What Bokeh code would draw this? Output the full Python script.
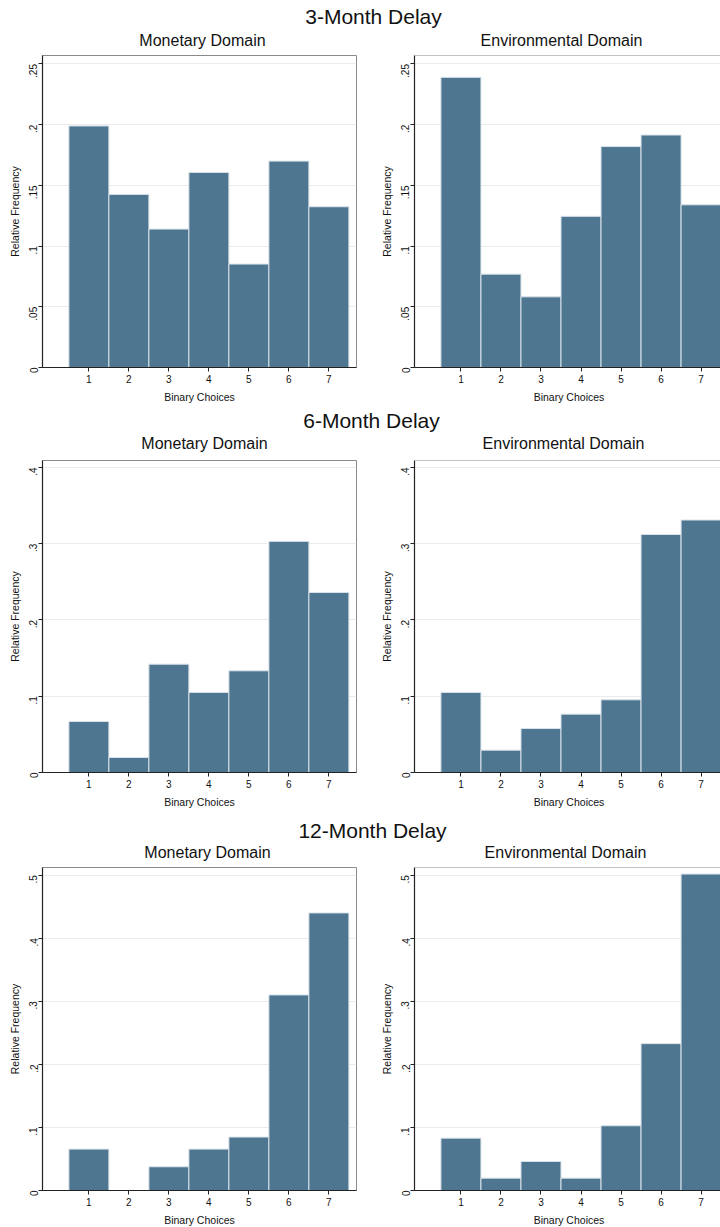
from math import pi
from bokeh.plotting import figure
from bokeh.layouts import column, row
from bokeh.models import FixedTicker, Span, Range1d, Label
from bokeh.embed import file_html
from bokeh.resources import INLINE

# ---------------- data ----------------
choices = [1, 2, 3, 4, 5, 6, 7]

month3_monetary = [0.199, 0.1426, 0.114, 0.1607, 0.0852, 0.170, 0.1324]
month3_environmental = [0.239, 0.0769, 0.0582, 0.1245, 0.182, 0.1915, 0.134]

month6_monetary = [0.0669, 0.0197, 0.142, 0.105, 0.1333, 0.303, 0.236]
month6_environmental = [0.105, 0.0293, 0.0577, 0.0765, 0.0953, 0.312, 0.331]

month12_monetary = [0.0656, 0.0, 0.0376, 0.0656, 0.0847, 0.310, 0.440]
month12_environmental = [0.083, 0.0196, 0.046, 0.0196, 0.1026, 0.2328, 0.5016]

row_titles = ["3-Month Delay", "6-Month Delay", "12-Month Delay"]
panel_titles = ["Monetary Domain", "Environmental Domain"]
x_label = "Binary Choices"
y_label = "Relative Frequency"

y_ticks_3 = [0, 0.05, 0.1, 0.15, 0.2, 0.25]
y_labels_3 = ["0", ".05", ".1", ".15", ".2", ".25"]
y_ticks_6 = [0, 0.1, 0.2, 0.3, 0.4]
y_labels_6 = ["0", ".1", ".2", ".3", ".4"]
y_ticks_12 = [0, 0.1, 0.2, 0.3, 0.4, 0.5]
y_labels_12 = ["0", ".1", ".2", ".3", ".4", ".5"]

# ---------------- style ----------------
FONT = "Liberation Sans"
BAR = "#4f7690"
BAR_EDGE = "#d9e3ea"
GRID = "#ebebeb"
AXIS = "#222222"
FRAME = "#8a8a8a"
TEXT = "#111111"
TOTAL_W = 720


def panel(values, ticks, labels, ymax, left, frame_h, bottom_b):
    if left:
        xr = Range1d(-0.16, 7.69)
        fw, bl, br = 314, 42, 21
    else:
        xr = Range1d(-0.16, 7.56)
        fw, bl, br = 309, 34, 0
    p = figure(frame_width=fw, frame_height=frame_h,
               min_border_left=bl, min_border_right=br,
               min_border_top=3, min_border_bottom=bottom_b,
               x_range=xr, y_range=Range1d(0, ymax),
               output_backend="svg", toolbar_location=None)
    p.margin = (0, 0, 0, 0)
    p.vbar(x=choices, top=values, width=1.0, bottom=0,
           fill_color=BAR, line_color=BAR_EDGE, line_width=1)

    p.xgrid.grid_line_color = None
    p.ygrid.grid_line_color = GRID
    p.ygrid.grid_line_width = 1
    p.ygrid.ticker = FixedTicker(ticks=ticks[1:])

    p.xaxis.ticker = FixedTicker(ticks=choices)
    p.yaxis.ticker = FixedTicker(ticks=ticks)
    p.yaxis.major_label_overrides = {t: l for t, l in zip(ticks, labels)}
    p.yaxis.major_label_orientation = pi / 2
    p.xaxis.axis_label = x_label
    p.yaxis.axis_label = y_label
    for ax in (p.xaxis, p.yaxis):
        ax.axis_line_color = AXIS
        ax.axis_line_width = 1.2
        ax.major_tick_line_color = AXIS
        ax.major_tick_in = 0
        ax.major_tick_out = 4
        ax.minor_tick_line_color = None
        ax.major_label_text_font = FONT
        ax.major_label_text_font_size = "10px"
        ax.major_label_text_color = TEXT
        ax.axis_label_text_font = FONT
        ax.axis_label_text_font_size = "10.5px"
        ax.axis_label_text_font_style = "normal"
        ax.axis_label_text_color = TEXT
    p.xaxis.major_label_standoff = 3
    p.xaxis.axis_label_standoff = 5
    p.yaxis.major_label_standoff = 5
    p.yaxis.axis_label_standoff = 2

    if left:
        p.outline_line_color = FRAME
        p.outline_line_width = 1
    else:
        p.outline_line_color = None
        p.add_layout(Span(location=ymax, dimension="width",
                          line_color=FRAME, line_width=1))
    return p


def heading(text, h, head_c, sub_c, sub_x):
    """Strip above a row: group heading and the two panel titles, as SVG text."""
    p = figure(width=TOTAL_W, height=h, x_axis_type=None, y_axis_type=None,
               x_range=Range1d(0, TOTAL_W), y_range=Range1d(0, h),
               min_border=0, output_backend="svg", toolbar_location=None)
    p.margin = (0, 0, 0, 0)
    p.outline_line_color = None
    p.xgrid.visible = False
    p.ygrid.visible = False
    p.add_layout(Label(x=head_c[0], y=h - head_c[1], text=text,
                       text_align="center", text_baseline="middle",
                       text_font=FONT, text_font_size="21px", text_color=TEXT))
    for name, sx in zip(panel_titles, sub_x):
        p.add_layout(Label(x=sx, y=h - sub_c, text=name,
                           text_align="center", text_baseline="middle",
                           text_font=FONT, text_font_size="16px", text_color=TEXT))
    return p


rows_data = [
    # values, values, ticks, labels, ymax, frame_h, bottom border,
    # strip h, heading (x, y from top), panel-title y from top, panel-title x
    (month3_monetary, month3_environmental, y_ticks_3, y_labels_3, 0.257, 312, 38,
     52, (373, 16), 40, (202, 561)),
    (month6_monetary, month6_environmental, y_ticks_6, y_labels_6, 0.409, 312, 38,
     52, (371, 15), 38, (204, 563)),
    (month12_monetary, month12_environmental, y_ticks_12, y_labels_12, 0.512, 323, 36,
     54, (372, 20), 42, (207, 565)),
]

items = []
for title, (mon, env, ticks, labels, ymax, fh, bb, hh, hc, sc, sx) in zip(row_titles, rows_data):
    items.append(heading(title, hh, hc, sc, sx))
    a = panel(mon, ticks, labels, ymax, True, fh, bb)
    b = panel(env, ticks, labels, ymax, False, fh, bb)
    r = row(a, b)
    r.margin = (0, 0, 0, 0)
    items.append(r)

layout = column(*items)
layout.margin = (0, 0, 0, 0)

open("out.html", "w").write(file_html(layout, INLINE))
